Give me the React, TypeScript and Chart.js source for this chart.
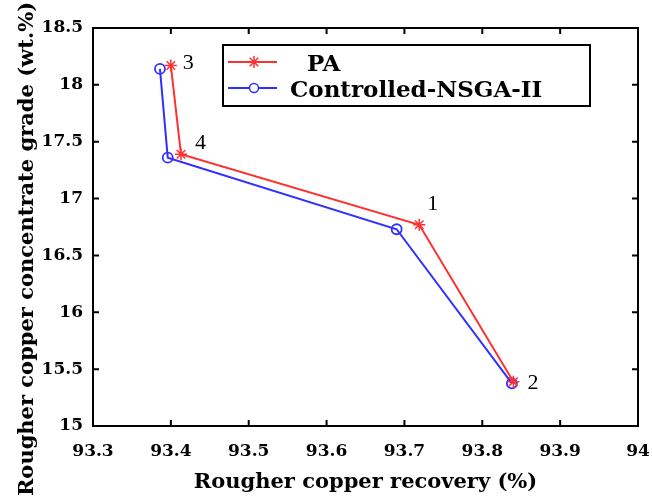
import React, { useEffect, useRef } from "react";
import { Chart, registerables } from "chart.js";

Chart.register(...registerables);

// ---- data ----
// points in line order: labelled 3, 4, 1, 2
const pointLabels = ["3", "4", "1", "2"];
const paRecovery = [93.4, 93.413, 93.719, 93.84];
const paGrade = [18.17, 17.39, 16.77, 15.39];
const nsgaRecovery = [93.386, 93.396, 93.69, 93.838];
const nsgaGrade = [18.14, 17.36, 16.73, 15.375];

const xTicks = [93.3, 93.4, 93.5, 93.6, 93.7, 93.8, 93.9, 94];
const yTicks = [15, 15.5, 16, 16.5, 17, 17.5, 18, 18.5];
const seriesNames = ["PA", "Controlled-NSGA-II"];
const xTitle = "Rougher copper recovery (%)";
const yTitle = "Rougher copper concentrate grade (wt.%)";

// styling
const RED = "#ff3030";
const BLUE = "#3030ff";
const SERIF = "'DejaVu Serif', serif";
const LSERIF = "'Liberation Serif', 'Times New Roman', serif";
const labelOffsets = [
  [12, -2.5],
  [14, -11],
  [8, -21],
  [14, 2],
];

function drawStar(ctx: CanvasRenderingContext2D, x: number, y: number, rad: number) {
  ctx.beginPath();
  for (let k = 0; k < 4; k++) {
    const ang = (k * Math.PI) / 4;
    ctx.moveTo(x - rad * Math.cos(ang), y - rad * Math.sin(ang));
    ctx.lineTo(x + rad * Math.cos(ang), y + rad * Math.sin(ang));
  }
  ctx.stroke();
  ctx.fillRect(x - 1.5, y - 1.5, 3, 3);
}

const frameAndTicks = {
  id: "frameAndTicks",
  afterDatasetsDraw(chart: any) {
    const { ctx, scales } = chart;
    ctx.save();
    ctx.fillStyle = RED;
    paRecovery.forEach((x, i) => {
      const px = scales.x.getPixelForValue(x);
      const py = scales.y.getPixelForValue(paGrade[i]);
      ctx.fillRect(px - 1.5, py - 1.5, 3, 3);
    });
    ctx.restore();
  },
  afterDraw(chart: any) {
    const { ctx, chartArea: a, scales } = chart;
    ctx.save();
    ctx.strokeStyle = "#000";
    ctx.lineWidth = 2;
    const tl = 6;
    xTicks.slice(1, -1).forEach((v) => {
      const px = scales.x.getPixelForValue(v);
      ctx.beginPath();
      ctx.moveTo(px, a.bottom);
      ctx.lineTo(px, a.bottom - tl);
      ctx.moveTo(px, a.top);
      ctx.lineTo(px, a.top + tl);
      ctx.stroke();
    });
    yTicks.slice(1, -1).forEach((v) => {
      const py = scales.y.getPixelForValue(v);
      ctx.beginPath();
      ctx.moveTo(a.left, py);
      ctx.lineTo(a.left + tl, py);
      ctx.moveTo(a.right, py);
      ctx.lineTo(a.right - tl, py);
      ctx.stroke();
    });
    ctx.strokeRect(a.left, a.top, a.right - a.left, a.bottom - a.top);

    // y axis title (centred on the canvas height, as in the reference)
    ctx.save();
    ctx.translate(33, 249);
    ctx.rotate(-Math.PI / 2);
    ctx.fillStyle = "#000";
    ctx.font = `bold 21px ${SERIF}`;
    ctx.textAlign = "center";
    ctx.textBaseline = "alphabetic";
    ctx.fillText(yTitle, 0, 0);
    ctx.restore();

    // point labels
    ctx.fillStyle = "#000";
    ctx.font = `22px ${LSERIF}`;
    ctx.textAlign = "left";
    ctx.textBaseline = "middle";
    pointLabels.forEach((t, i) => {
      const px = scales.x.getPixelForValue(paRecovery[i]);
      const py = scales.y.getPixelForValue(paGrade[i]);
      ctx.fillText(t, px + labelOffsets[i][0], py + labelOffsets[i][1]);
    });

    // legend
    const lx = a.left + 130;
    const ly = a.top + 17;
    const lw = 367;
    const lh = 61;
    ctx.fillStyle = "#fff";
    ctx.fillRect(lx, ly, lw, lh);
    ctx.strokeStyle = "#000";
    ctx.lineWidth = 2;
    ctx.strokeRect(lx, ly, lw, lh);
    const rows = [
      { y: ly + 17, base: ly + 26, color: RED, style: "star", text: seriesNames[0], tx: lx + 84 },
      { y: ly + 43, base: ly + 52, color: BLUE, style: "circle", text: seriesNames[1], tx: lx + 67 },
    ];
    rows.forEach((r) => {
      ctx.strokeStyle = r.color;
      ctx.fillStyle = r.color;
      ctx.lineWidth = 2;
      ctx.beginPath();
      ctx.moveTo(lx + 5, r.y);
      ctx.lineTo(lx + 54, r.y);
      ctx.stroke();
      ctx.lineWidth = 1.5;
      if (r.style === "circle") {
        ctx.fillStyle = "#fff";
        ctx.beginPath();
        ctx.arc(lx + 31, r.y, 4.5, 0, Math.PI * 2);
        ctx.fill();
        ctx.stroke();
      } else {
        drawStar(ctx, lx + 31, r.y, 6);
      }
      ctx.fillStyle = "#000";
      ctx.font = `bold 23px ${SERIF}`;
      ctx.textAlign = "left";
      ctx.textBaseline = "alphabetic";
      ctx.fillText(r.text, r.tx, r.base);
    });
    ctx.restore();
  },
};

export default function App() {
  const ref = useRef<HTMLCanvasElement | null>(null);
  useEffect(() => {
    if (!ref.current) return;
    const chart = new Chart(ref.current, {
      type: "line",
      data: {
        datasets: [
          {
            label: seriesNames[0],
            data: paRecovery.map((x, i) => ({ x, y: paGrade[i] })),
            borderColor: RED,
            backgroundColor: RED,
            borderWidth: 2,
            pointStyle: "star",
            pointRadius: 6,
            pointBorderWidth: 1.5,
            pointBorderColor: RED,
            tension: 0,
          },
          {
            label: seriesNames[1],
            data: nsgaRecovery.map((x, i) => ({ x, y: nsgaGrade[i] })),
            borderColor: BLUE,
            backgroundColor: "rgba(255,255,255,0)",
            borderWidth: 2,
            pointStyle: "circle",
            pointRadius: 5,
            pointBorderWidth: 1.8,
            pointBorderColor: BLUE,
            tension: 0,
          },
        ],
      },
      options: {
        responsive: false,
        animation: false,
        layout: { padding: { top: 28, right: 14, left: 0, bottom: 0 } },
        plugins: { legend: { display: false }, tooltip: { enabled: false } },
        scales: {
          x: {
            type: "linear",
            min: 93.3,
            max: 94,
            afterBuildTicks: (s: any) => {
              s.ticks = xTicks.map((v) => ({ value: v }));
            },
            afterFit: (s: any) => {
              s.height = 72;
              s.paddingLeft = 0;
              s.paddingRight = 0;
            },
            ticks: {
              callback: (v: any) => String(Math.round(Number(v) * 10) / 10),
              color: "#000",
              font: { family: SERIF, size: 17, weight: "bold" },
              padding: 15,
              maxRotation: 0,
              autoSkip: false,
            },
            grid: { display: false, drawTicks: false },
            border: { display: false },
            title: {
              display: true,
              text: xTitle,
              color: "#000",
              font: { family: SERIF, size: 21, weight: "bold" },
              padding: { top: 0, bottom: 3 },
            },
          },
          y: {
            type: "linear",
            min: 15,
            max: 18.5,
            afterBuildTicks: (s: any) => {
              s.ticks = yTicks.map((v) => ({ value: v }));
            },
            afterFit: (s: any) => {
              s.width = 93;
              s.paddingTop = 0;
              s.paddingBottom = 0;
            },
            ticks: {
              callback: (v: any) => String(Math.round(Number(v) * 10) / 10),
              color: "#000",
              font: { family: SERIF, size: 17, weight: "bold" },
              padding: 10,
              autoSkip: false,
            },
            grid: { display: false, drawTicks: false },
            border: { display: false },
            title: { display: false },
          },
        },
      },
      plugins: [frameAndTicks],
    } as any);
    return () => chart.destroy();
  }, []);
  return (
    <div style={{ position: "absolute", left: 0, top: 0, width: 652, height: 498, background: "#fff" }}>
      <canvas ref={ref} width={652} height={498} />
    </div>
  );
}
